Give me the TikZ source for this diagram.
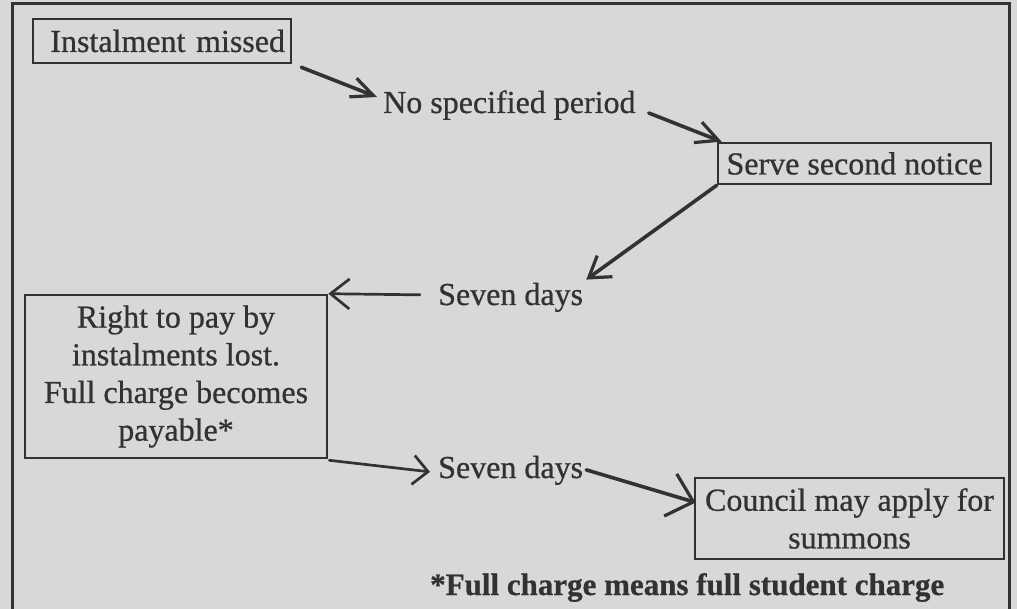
\documentclass[tikz,border=0pt]{standalone}
\usepackage{fontspec}
\setmainfont{Liberation Serif}[FakeBold=0.7]
\newfontfamily\notefont{Liberation Serif}[UprightFont={* Bold}, FakeBold=0.6]
\usetikzlibrary{arrows.meta}
\definecolor{paper}{RGB}{216,216,216}
\definecolor{ink}{RGB}{50,50,50}
\tikzset{
  txt/.style={inner sep=0pt, text=ink, font={\fontsize{32pt}{37.7pt}\selectfont}},
  boxed/.style={draw=ink, line width=2.6pt, text=ink, inner sep=0pt, align=center,
                font={\fontsize{32pt}{37.7pt}\selectfont}},
  conn/.style={draw=ink, line width=3.6pt, line cap=round},
  thinconn/.style={draw=ink, line width=2.7pt, line cap=round},
}
\begin{document}
\begin{tikzpicture}[x=1pt,y=-1pt]
\useasboundingbox (0,0) rectangle (1017,609);
\fill[paper] (0,0) rectangle (1017,609);
% outer frame
\draw[draw=ink, line width=3pt] (12,625) -- (12,4) -- (1009,4) -- (1009,625);

% nodes
\node[boxed, minimum width=258pt, minimum height=44pt, text width=246pt, align=right]
  (b1) at (162,41) {Instalment missed};
\node[txt, anchor=base west] (nsp) at (383,113) {No specified period};
\node[boxed, minimum width=273pt, minimum height=41pt] (b2) at (854.5,163.5) {Serve second notice};
\node[txt, anchor=base west] (sd1) at (438,305) {Seven days};
\node[boxed, minimum width=302pt, minimum height=163pt] (b3) at (176,376.5)
  {Right to pay by\\instalments lost.\\Full charge becomes\\payable*};
\node[txt, anchor=base west] (sd2) at (438,478) {Seven days};
\node[boxed, minimum width=309pt, minimum height=81pt] (b4) at (849.5,518.5)
  {Council may apply for\\summons};
\node[txt, anchor=base west, font={\fontsize{31pt}{36pt}\selectfont\notefont}] (fn) at (430,595)
  {*Full charge means full student charge};

% connectors
\draw[conn, -{Straight Barb[length=22pt,width=20pt,line width=3.2pt]}]
  ([xshift=9pt,yshift=-3pt]b1.south east) -- ([xshift=-6pt,yshift=16pt]nsp.base west);
\draw[conn, -{Straight Barb[length=22pt,width=22pt,line width=3.2pt]}]
  ([xshift=13pt]nsp.base east) -- ([xshift=5pt]b2.north west);
\draw[conn, -{Straight Barb[length=20pt,width=26pt,line width=3.2pt]}]
  (b2.south west) -- ([xshift=3pt,yshift=3pt]sd1.north east);
\draw[thinconn, -{Straight Barb[length=19pt,width=30pt,line width=2.7pt]}]
  ([xshift=-18pt,yshift=2.5pt]sd1.west) -- (b3.north east);
\draw[thinconn, -{Straight Barb[length=15pt,width=29pt,line width=2.7pt]}]
  ([xshift=1pt,yshift=-1pt]b3.south east) -- ([xshift=-8pt,yshift=-1.5pt]sd2.west);
\draw[conn, -{Straight Barb[length=24pt,width=44pt,line width=3.2pt]}]
  ([xshift=3pt,yshift=0.5pt]sd2.east) -- ([xshift=2pt,yshift=16pt]b4.west);
\end{tikzpicture}
\end{document}
